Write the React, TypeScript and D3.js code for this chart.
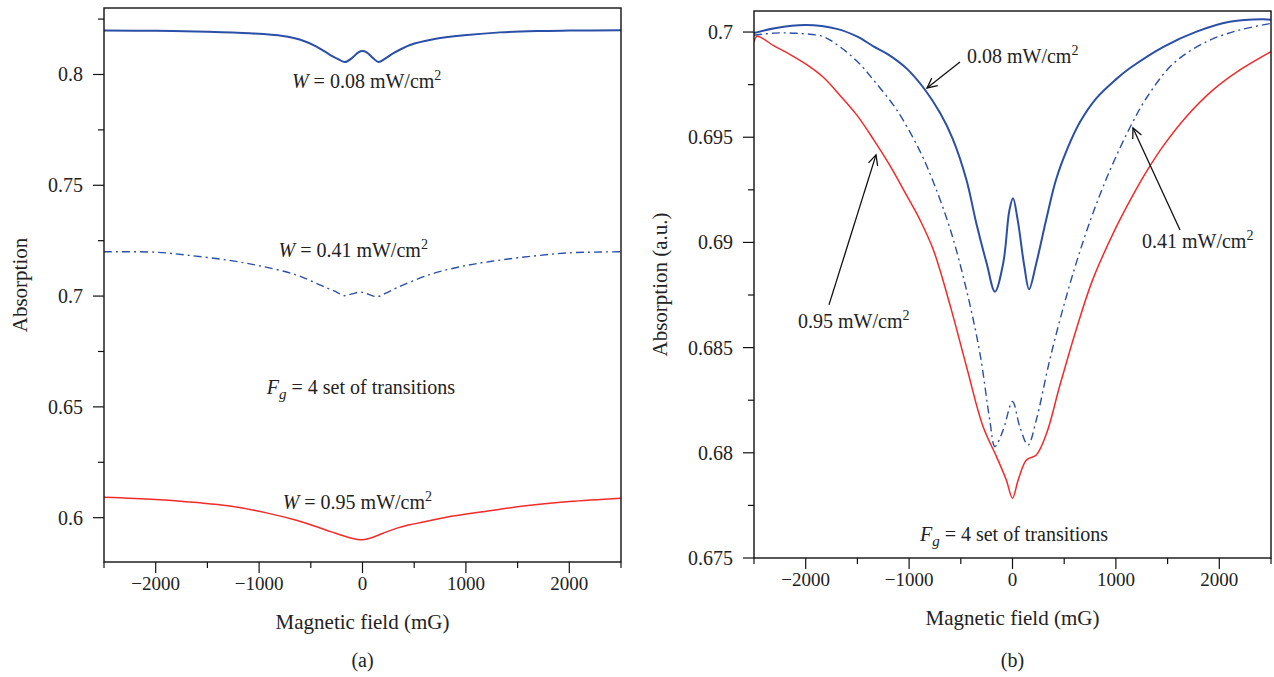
import React from 'react';
import * as d3 from 'd3';

// ---------- Data: panel (a) ----------
const fieldA08 = [-2500, -2000, -1500, -1090, -770, -600, -445, -315, -230, -170, -100, -40, 0, 40, 100, 155, 215, 300, 460, 685, 1010, 1330, 1700, 2000, 2500];
const absA08 = [0.8198, 0.8197, 0.8193, 0.8186, 0.8174, 0.8157, 0.8126, 0.8089, 0.8068, 0.8056, 0.8075, 0.8100, 0.8106, 0.8100, 0.8075, 0.8056, 0.8070, 0.8096, 0.8133, 0.8159, 0.8178, 0.8190, 0.8196, 0.8198, 0.8200];

const fieldA41 = [-2500, -2000, -1700, -1300, -1000, -650, -400, -250, -180, -100, -20, 60, 140, 220, 330, 650, 970, 1250, 1600, 2000, 2500];
const absA41 = [0.7200, 0.7198, 0.7185, 0.7162, 0.7137, 0.7097, 0.7048, 0.7018, 0.7002, 0.7010, 0.7018, 0.7008, 0.6997, 0.7012, 0.7037, 0.7097, 0.7135, 0.7157, 0.7178, 0.7195, 0.7200];

const fieldA95 = [-2500, -2000, -1600, -1300, -950, -630, -450, -300, -150, -50, 0, 80, 200, 350, 500, 800, 1230, 1600, 2000, 2500];
const absA95 = [0.6092, 0.6082, 0.6068, 0.6054, 0.6024, 0.5987, 0.5960, 0.5936, 0.5913, 0.5902, 0.5900, 0.5908, 0.5930, 0.5955, 0.5972, 0.6001, 0.6031, 0.6055, 0.6073, 0.6088];

// ---------- Data: panel (b) ----------
const fieldB08 = [-2500, -2300, -2000, -1700, -1500, -1345, -1200, -1020, -850, -700, -580, -445, -350, -250, -170, -90, -30, 5, 50, 115, 160, 230, 325, 420, 530, 650, 810, 1000, 1140, 1460, 1780, 2100, 2430, 2500];
const absB08 = [0.69995, 0.70018, 0.70033, 0.70015, 0.69978, 0.69932, 0.69893, 0.69825, 0.69728, 0.69615, 0.69495, 0.69297, 0.69091, 0.68901, 0.68766, 0.68901, 0.69153, 0.69210, 0.69107, 0.68885, 0.68777, 0.68901, 0.69107, 0.69297, 0.69445, 0.69570, 0.69685, 0.69775, 0.69830, 0.69930, 0.70002, 0.70049, 0.70061, 0.70058];

const fieldB41 = [-2500, -2300, -2090, -1830, -1670, -1500, -1345, -1120, -900, -760, -600, -445, -315, -220, -170, -90, 0, 70, 150, 230, 360, 520, 680, 840, 980, 1140, 1300, 1555, 1880, 2200, 2500];
const absB41 = [0.69985, 0.69995, 0.69994, 0.69978, 0.69930, 0.69860, 0.69772, 0.69630, 0.69439, 0.69280, 0.69059, 0.68774, 0.68473, 0.68156, 0.68030, 0.68109, 0.68244, 0.68125, 0.68037, 0.68156, 0.68441, 0.68742, 0.69000, 0.69220, 0.69385, 0.69550, 0.69690, 0.69850, 0.69955, 0.70010, 0.70041];

const fieldB95 = [-2500, -2470, -2310, -2150, -1990, -1830, -1670, -1505, -1345, -1185, -1020, -895, -765, -600, -445, -285, -155, -60, 0, 55, 135, 230, 330, 455, 615, 775, 1000, 1165, 1300, 1460, 1685, 1940, 2200, 2500];
const absB95 = [0.69954, 0.69980, 0.69935, 0.69893, 0.69845, 0.69785, 0.69700, 0.69605, 0.69490, 0.69365, 0.69220, 0.69107, 0.68964, 0.68695, 0.68410, 0.68125, 0.67982, 0.67871, 0.67784, 0.67871, 0.67966, 0.67990, 0.68093, 0.68315, 0.68584, 0.68822, 0.69070, 0.69225, 0.69340, 0.69460, 0.69600, 0.69725, 0.69820, 0.69907];

// ---------- Ticks ----------
const xMajorTicks = [-2000, -1000, 0, 1000, 2000];
const xMinorTicks = [-2500, -1500, -500, 500, 1500, 2500];
const yMajorA = [0.6, 0.65, 0.7, 0.75, 0.8];
const yMinorA = [0.625, 0.675, 0.725, 0.775, 0.825];
const yLabelsA = ['0.6', '0.65', '0.7', '0.75', '0.8'];
const yMajorB = [0.675, 0.68, 0.685, 0.69, 0.695, 0.7];
const yMinorB = [0.6775, 0.6825, 0.6875, 0.6925, 0.6975];
const yLabelsB = ['0.675', '0.68', '0.685', '0.69', '0.695', '0.7'];
const xLabels = ['\u22122000', '\u22121000', '0', '1000', '2000'];

// annotations (data coordinates)
const arrowsB = [
  { from: [-508, 0.69858], to: [-827, 0.69734] },
  { from: [1620, 0.69059], to: [1165, 0.69544] },
  { from: [-1775, 0.68703], to: [-1320, 0.69416] },
];

const BLUE = '#2b4ea6';
const RED = '#f22a2a';
const DASHDOT = '8,4,2,4';
const FONT = '"Liberation Serif", "Times New Roman", serif';
const TEXT = '#222';

type Panel = {
  x: d3.ScaleLinear<number, number>;
  y: d3.ScaleLinear<number, number>;
};

function mkLine(p: Panel, xs: number[], ys: number[]) {
  const pts = xs.map((f, i) => [f, ys[i]] as [number, number]);
  return d3
    .line<[number, number]>()
    .x((d) => p.x(d[0]))
    .y((d) => p.y(d[1]))
    .curve(d3.curveCatmullRom.alpha(0.5))(pts) as string;
}

function Axes({ p, yMajor, yMinor, yLabels, title, sub, titleX }: any) {
  const [x0, x1] = p.x.range();
  const [y1, y0] = p.y.range();
  const fs = 20;
  return (
    <g>
      <rect x={x0} y={y0} width={x1 - x0} height={y1 - y0} fill="none" stroke="#111" strokeWidth={1.4} />
      {yMajor.map((v: number, i: number) => (
        <g key={'ym' + i}>
          <line x1={x0 - 11} x2={x0} y1={p.y(v)} y2={p.y(v)} stroke="#111" strokeWidth={1.2} />
          <text x={x0 - 21} y={p.y(v)} dy="0.35em" textAnchor="end" fontSize={fs} fontFamily={FONT} fill={TEXT}>
            {yLabels[i]}
          </text>
        </g>
      ))}
      {yMinor.map((v: number, i: number) => (
        <line key={'yn' + i} x1={x0 - 6} x2={x0} y1={p.y(v)} y2={p.y(v)} stroke="#111" strokeWidth={1.2} />
      ))}
      {xMajorTicks.map((v, i) => (
        <g key={'xm' + i}>
          <line x1={p.x(v)} x2={p.x(v)} y1={y1} y2={y1 + 11} stroke="#111" strokeWidth={1.2} />
          <text x={p.x(v)} y={y1 + 28} textAnchor="middle" fontSize={19} fontFamily={FONT} fill={TEXT}>
            {xLabels[i]}
          </text>
        </g>
      ))}
      {xMinorTicks.map((v, i) => (
        <line key={'xn' + i} x1={p.x(v)} x2={p.x(v)} y1={y1} y2={y1 + 6} stroke="#111" strokeWidth={1.2} />
      ))}
      <text x={(x0 + x1) / 2} y={y1 + 67} textAnchor="middle" fontSize={21} fontFamily={FONT} fill={TEXT}>
        Magnetic field (mG)
      </text>
      <text x={(x0 + x1) / 2} y={667} textAnchor="middle" fontSize={20} fontFamily={FONT} fill={TEXT}>
        {sub}
      </text>
      <text
        transform={`translate(${titleX},${(y0 + y1) / 2}) rotate(-90)`}
        textAnchor="middle"
        dy="0.35em"
        fontSize={21}
        fontFamily={FONT}
        fill={TEXT}
      >
        {title}
      </text>
    </g>
  );
}

function WLabel({ x, y, value, anchor = 'middle', italicW = true }: any) {
  return (
    <text x={x} y={y} textAnchor={anchor} fontSize={20} fontFamily={FONT} fill={TEXT}>
      {italicW && <tspan fontStyle="italic">W</tspan>}
      {italicW && <tspan> = </tspan>}
      <tspan>{value} mW/cm</tspan>
      <tspan dy={-8} fontSize={14}>2</tspan>
    </text>
  );
}

function FgLabel({ x, y }: any) {
  return (
    <text x={x} y={y} textAnchor="middle" fontSize={20} fontFamily={FONT} fill={TEXT}>
      <tspan fontStyle="italic">F</tspan>
      <tspan fontStyle="italic" fontSize={15} dy={5}>g</tspan>
      <tspan dy={-5}> = 4 set of transitions</tspan>
    </text>
  );
}

function Arrow({ p, from, to }: any) {
  const fx = p.x(from[0]);
  const fy = p.y(from[1]);
  const tx = p.x(to[0]);
  const ty = p.y(to[1]);
  const ang = Math.atan2(fy - ty, fx - tx);
  const L = 11;
  const a = 0.45;
  const h1 = [tx + L * Math.cos(ang + a), ty + L * Math.sin(ang + a)];
  const h2 = [tx + L * Math.cos(ang - a), ty + L * Math.sin(ang - a)];
  return (
    <g stroke="#111" strokeWidth={1.3} fill="none">
      <line x1={fx} y1={fy} x2={tx} y2={ty} />
      <polyline points={`${h1[0]},${h1[1]} ${tx},${ty} ${h2[0]},${h2[1]}`} />
    </g>
  );
}

export default function App() {
  const pa: Panel = {
    x: d3.scaleLinear().domain([-2500, 2500]).range([104, 621]),
    y: d3.scaleLinear().domain([0.58, 0.83]).range([562, 8]),
  };
  const pb: Panel = {
    x: d3.scaleLinear().domain([-2500, 2500]).range([754, 1271]),
    y: d3.scaleLinear().domain([0.675, 0.701]).range([558, 11]),
  };

  return (
    <svg
      width={1274}
      height={677}
      viewBox="0 0 1274 677"
      style={{ position: 'absolute', left: 0, top: 0, background: '#fff' }}
    >
      <rect x={0} y={0} width={1274} height={677} fill="#fff" />
      <defs>
        <clipPath id="clipA">
          <rect x={104} y={8} width={517} height={554} />
        </clipPath>
        <clipPath id="clipB">
          <rect x={754} y={11} width={517} height={547} />
        </clipPath>
      </defs>

      {/* Panel (a) */}
      <g clipPath="url(#clipA)" fill="none">
        <path d={mkLine(pa, fieldA08, absA08)} stroke={BLUE} strokeWidth={2} />
        <path d={mkLine(pa, fieldA41, absA41)} stroke={BLUE} strokeWidth={1.4} strokeDasharray={DASHDOT} />
        <path d={mkLine(pa, fieldA95, absA95)} stroke={RED} strokeWidth={1.5} />
      </g>
      <Axes p={pa} yMajor={yMajorA} yMinor={yMinorA} yLabels={yLabelsA} title="Absorption" sub="(a)" titleX={20} />
      <WLabel x={pa.x(40)} y={pa.y(0.794)} value="0.08" />
      <WLabel x={pa.x(-90)} y={pa.y(0.7178)} value="0.41" />
      <FgLabel x={pa.x(-15)} y={pa.y(0.6557)} />
      <WLabel x={pa.x(-50)} y={pa.y(0.6039)} value="0.95" />

      {/* Panel (b) */}
      <g clipPath="url(#clipB)" fill="none">
        <path d={mkLine(pb, fieldB08, absB08)} stroke={BLUE} strokeWidth={2} />
        <path d={mkLine(pb, fieldB41, absB41)} stroke={BLUE} strokeWidth={1.4} strokeDasharray={DASHDOT} />
        <path d={mkLine(pb, fieldB95, absB95)} stroke={RED} strokeWidth={1.5} />
      </g>
      <Axes p={pb} yMajor={yMajorB} yMinor={yMinorB} yLabels={yLabelsB} title="Absorption (a.u.)" sub="(b)" titleX={660} />
      {arrowsB.map((a, i) => (
        <Arrow key={i} p={pb} from={a.from} to={a.to} />
      ))}
      <WLabel x={pb.x(-440)} y={pb.y(0.69853)} value="0.08" anchor="start" italicW={false} />
      <WLabel x={pb.x(1252)} y={pb.y(0.68974)} value="0.41" anchor="start" italicW={false} />
      <WLabel x={pb.x(-2074)} y={pb.y(0.68593)} value="0.95" anchor="start" italicW={false} />
      <FgLabel x={pb.x(15)} y={pb.y(0.67581)} />
    </svg>
  );
}
